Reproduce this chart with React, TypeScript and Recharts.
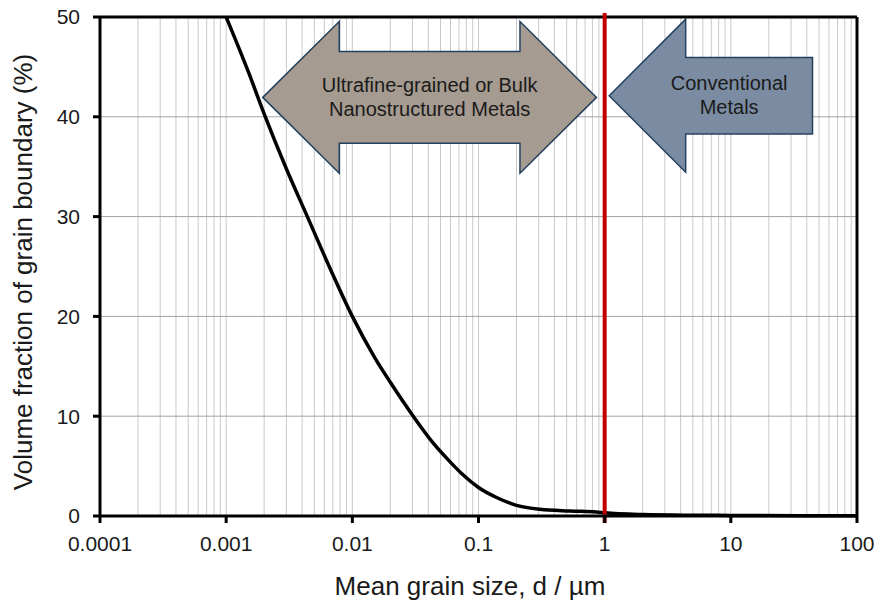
import type { JSX } from "react";

import { CartesianGrid, Line, LineChart, ReferenceArea, ReferenceLine, XAxis, YAxis } from "recharts";

// mean grain size (µm) and volume fraction of grain boundary (%)
const grainSize = [0.001, 0.0015, 0.002, 0.003, 0.0044, 0.007, 0.01, 0.015, 0.02, 0.0304, 0.0438, 0.0593, 0.0757, 0.1, 0.139, 0.2, 0.306, 0.53, 0.86, 1, 2, 5, 10, 100];
const boundaryFraction = [50, 44.5, 40.3, 34.8, 30, 24.2, 20, 15.9, 13.4, 10, 7.3, 5.45, 4.1, 2.85, 1.85, 1.07, 0.67, 0.5, 0.4, 0.32, 0.15, 0.08, 0.06, 0.02];

const decades = [0.0001, 0.001, 0.01, 0.1, 1, 10, 100];
const minorSteps = [1, 2, 3, 4, 5, 6, 7, 8, 9];
const yTicks = [0, 10, 20, 30, 40, 50];

const nanoLabel = ["Ultrafine-grained or Bulk", "Nanostructured Metals"];
const conventionalLabel = ["Conventional", "Metals"];
const xTitle = "Mean grain size, d / µm";
const yTitle = "Volume fraction of grain boundary (%)";

const data = grainSize.map((d, i) => ({ d, fraction: boundaryFraction[i] }));
const xTicks = decades.flatMap((dec, i) => (i === decades.length - 1 ? [dec] : minorSteps.map((m) => (m === 1 ? dec : m * dec))));

const FONT = '"Liberation Sans", Arial, sans-serif';
const TEXT = "#1a1a1a";
const HEAD = 76.5;

function DecadeTick(props: any): JSX.Element {
	const { x, y, payload } = props;
	if (!decades.includes(payload.value)) return <g />;
	return (
		<g>
			<line stroke="#000" strokeWidth={3} x1={x} x2={x} y1={y - 20} y2={y - 13} />
			<text dy="0.71em" fill={TEXT} fontFamily={FONT} fontSize={21} textAnchor="middle" x={x} y={y}>
				{String(payload.value)}
			</text>
		</g>
	);
}

function XTitle(): JSX.Element {
	return (
		<text fill={TEXT} fontFamily={FONT} fontSize={26} textAnchor="middle" x={470} y={595}>
			{xTitle}
		</text>
	);
}

function YTitle(): JSX.Element {
	return (
		<text fill={TEXT} fontFamily={FONT} fontSize={26} textAnchor="middle" transform="rotate(-90, 32, 272)" x={32} y={272}>
			{yTitle}
		</text>
	);
}

function ArrowText({ cx, cy, lines }: { cx: number; cy: number; lines: string[] }): JSX.Element {
	return (
		<text fill={TEXT} fontFamily={FONT} fontSize={20} textAnchor="middle">
			<tspan x={cx} y={cy - 5.5}>
				{lines[0]}
			</tspan>
			<tspan x={cx} y={cy + 18.8}>
				{lines[1]}
			</tspan>
		</text>
	);
}

function DoubleArrow(props: any): JSX.Element {
	const { x, y, width: w, height: h } = props;
	const mid = h / 2;
	const s1 = mid - 45.8;
	const s2 = mid + 45.8;
	const pts = [
		[0, mid], [HEAD, 0], [HEAD, s1], [w - HEAD, s1], [w - HEAD, 0],
		[w, mid], [w - HEAD, h], [w - HEAD, s2], [HEAD, s2], [HEAD, h],
	];
	return (
		<g>
			<polygon fill="#a69b90" points={pts.map(([px, py]) => `${x + px},${y + py}`).join(" ")} stroke="#24405f" strokeWidth={1.5} />
			<ArrowText cx={x + w / 2} cy={y + mid} lines={nanoLabel} />
		</g>
	);
}

function LeftArrow(props: any): JSX.Element {
	const { x, y, width: w, height: h } = props;
	const mid = h / 2;
	const s1 = mid - 38.3;
	const s2 = mid + 38.3;
	const pts = [[0, mid], [HEAD, 0], [HEAD, s1], [w, s1], [w, s2], [HEAD, s2], [HEAD, h]];
	return (
		<g>
			<polygon fill="#7b8ca2" points={pts.map(([px, py]) => `${x + px},${y + py}`).join(" ")} stroke="#24405f" strokeWidth={1.5} />
			<ArrowText cx={x + w * 0.59} cy={y + mid} lines={conventionalLabel} />
		</g>
	);
}

export default function App(): JSX.Element {
	return (
		<div style={{ left: 0, position: "absolute", top: 0 }}>
			<LineChart data={data} height={604} margin={{ bottom: 28, left: 0, right: 20, top: 17 }} style={{ fontFamily: FONT }} width={877}>
				<CartesianGrid horizontal={false} stroke="#c9c9c9" />
				<CartesianGrid stroke="#a3a3a3" vertical={false} />
				<XAxis
					allowDataOverflow
					axisLine={{ stroke: "#000", strokeWidth: 3 }}
					dataKey="d"
					domain={[0.0001, 100]}
					height={60}
					interval={0}
					label={<XTitle />}
					scale="log"
					tick={<DecadeTick />}
					tickLine={false}
					tickMargin={13}
					tickSize={7}
					ticks={xTicks}
					type="number"
				/>
				<YAxis
					axisLine={{ stroke: "#000", strokeWidth: 3 }}
					domain={[0, 50]}
					label={<YTitle />}
					tick={{ fill: TEXT, fontSize: 21 }}
					tickLine={{ stroke: "#000", strokeWidth: 3 }}
					tickMargin={13}
					tickSize={7}
					ticks={yTicks}
					type="number"
					width={100}
				/>
				<ReferenceLine stroke="#000" strokeWidth={3} y={50} />
				<ReferenceLine stroke="#000" strokeWidth={3} x={100} />
				<Line dataKey="fraction" dot={false} isAnimationActive={false} stroke="#000" strokeWidth={3.5} type="monotone" />
				<ReferenceLine
					ifOverflow="visible"
					segment={[{ x: 1, y: -0.7 }, { x: 1, y: 50.4 }]}
					stroke="#c00000"
					strokeWidth={4}
				/>
				<ReferenceArea fillOpacity={1} ifOverflow="visible" shape={DoubleArrow} x1={0.00195} x2={0.861} y1={34.34} y2={49.55} />
				<ReferenceArea fillOpacity={1} ifOverflow="visible" shape={LeftArrow} x1={1.086} x2={44.4} y1={34.44} y2={49.79} />
			</LineChart>
		</div>
	);
}
